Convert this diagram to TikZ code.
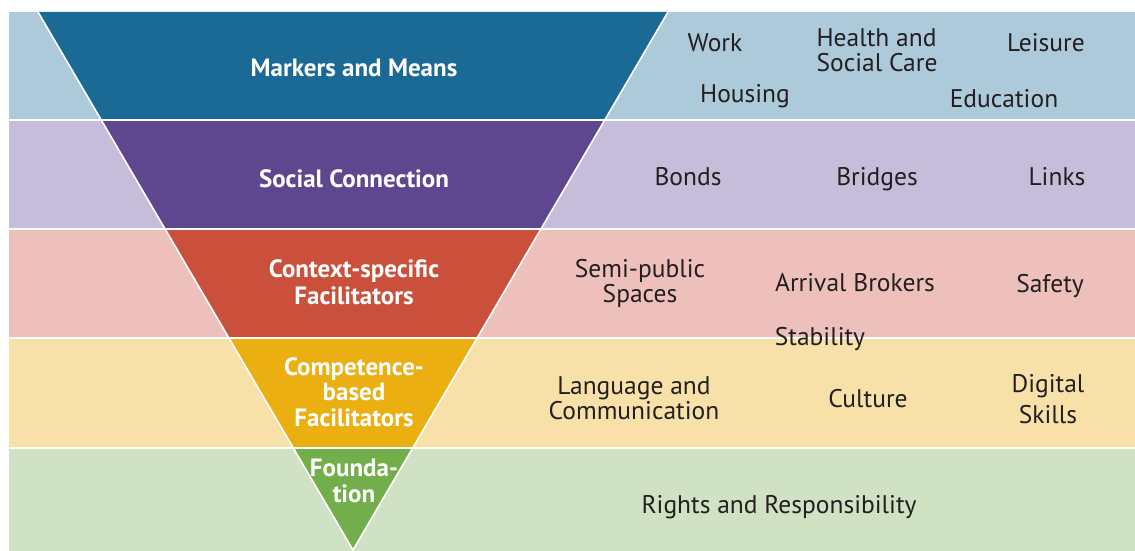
\documentclass[tikz,border=0pt]{standalone}
\usepackage{fontspec}
\setmainfont{PT Sans}
\definecolor{bandA}{HTML}{ADCADA}
\definecolor{bandB}{HTML}{C5BDD9}
\definecolor{bandC}{HTML}{EDC0BB}
\definecolor{bandD}{HTML}{F8E1A9}
\definecolor{bandE}{HTML}{CFE2C3}
\definecolor{coreA}{HTML}{1B6A96}
\definecolor{coreB}{HTML}{5F478F}
\definecolor{coreC}{HTML}{CB503C}
\definecolor{coreD}{HTML}{EBAF12}
\definecolor{coreE}{HTML}{72AE4A}
\definecolor{ink}{HTML}{231F20}
% text boxes have a fixed height/depth; the node position is 6pt above the last baseline
\tikzset{
  level/.style={text=white, align=center, inner sep=0pt, text height=18pt, text depth=6pt,
                font=\fontsize{25}{25.5}\selectfont\bfseries},
  item/.style={text=ink, align=center, inner sep=0pt, text height=18pt, text depth=6pt,
               font=\fontsize{25.5}{25}\selectfont},
  itemleft/.style={item, align=left},
  gap/.style={white, line width=1.6pt},
}
\begin{document}
\begin{tikzpicture}[x=1pt,y=-1pt]
\useasboundingbox (0,0) rectangle (1135,551);
% horizontal bands
\fill[bandA] (9,12)  rectangle (1135,120);
\fill[bandB] (9,120) rectangle (1135,229);
\fill[bandC] (9,229) rectangle (1135,338);
\fill[bandD] (9,338) rectangle (1135,448);
\fill[bandE] (9,448) rectangle (1135,551);
% inverted triangle, coloured band by band
\coordinate (tl) at (38,12);
\coordinate (tr) at (668,12);
\coordinate (tip) at (353,550);
\foreach \ya/\yb/\col in {12/120/coreA, 120/229/coreB, 229/338/coreC, 338/448/coreD, 448/551/coreE}{
  \begin{scope}
    \clip (9,\ya) rectangle (1135,\yb);
    \fill[\col] (tl) -- (tr) -- (tip) -- cycle;
  \end{scope}
}
% separators between bands
\foreach \y in {120,229,338,448}{
  \draw[gap] (9,\y) -- (1135,\y);
}
\draw[gap, line join=miter] (tl) -- (tip) -- (tr);
% level names
\node[level] (markers)    at (354,71)  {Markers and Means};
\node[level] (social)     at (354,181) {Social Connection};
\node[level, font=\fontsize{25}{27}\selectfont\bfseries]
             (context)    at (354,298) {Context-specific\\Facilitators};
\node[level] (competence) at (354,420) {Competence-\\based\\Facilitators};
\node[level] (foundation) at (354,496) {Founda-\\tion};
% domains of each level
\node[item] (work)      at (715,46)    {Work};
\node[itemleft] (health) at (877,66)   {Health and\\Social Care};
\node[item] (leisure)   at (1046,46)   {Leisure};
\node[item] (housing)   at (745,96)    {Housing};
\node[item] (education) at (1004,101)  {Education};
\node[item] (bonds)     at (688,179)   {Bonds};
\node[item] (bridges)   at (877,179)   {Bridges};
\node[item] (links)     at (1057,179)  {Links};
\node[item] (semi)      at (640,296)   {Semi-public\\Spaces};
\node[item] (arrival)   at (855,285)   {Arrival Brokers};
\node[item] (safety)    at (1050,286)  {Safety};
\node[item] (stability) at (820,339)   {Stability};
\node[item] (language)  at (634,413)   {Language and\\Communication};
\node[item] (culture)   at (868,401)   {Culture};
\node[item, font=\fontsize{25.5}{31}\selectfont]
            (digital)   at (1048,417)  {Digital\\Skills};
\node[item] (rights)    at (779,507)   {Rights and Responsibility};
\end{tikzpicture}
\end{document}
